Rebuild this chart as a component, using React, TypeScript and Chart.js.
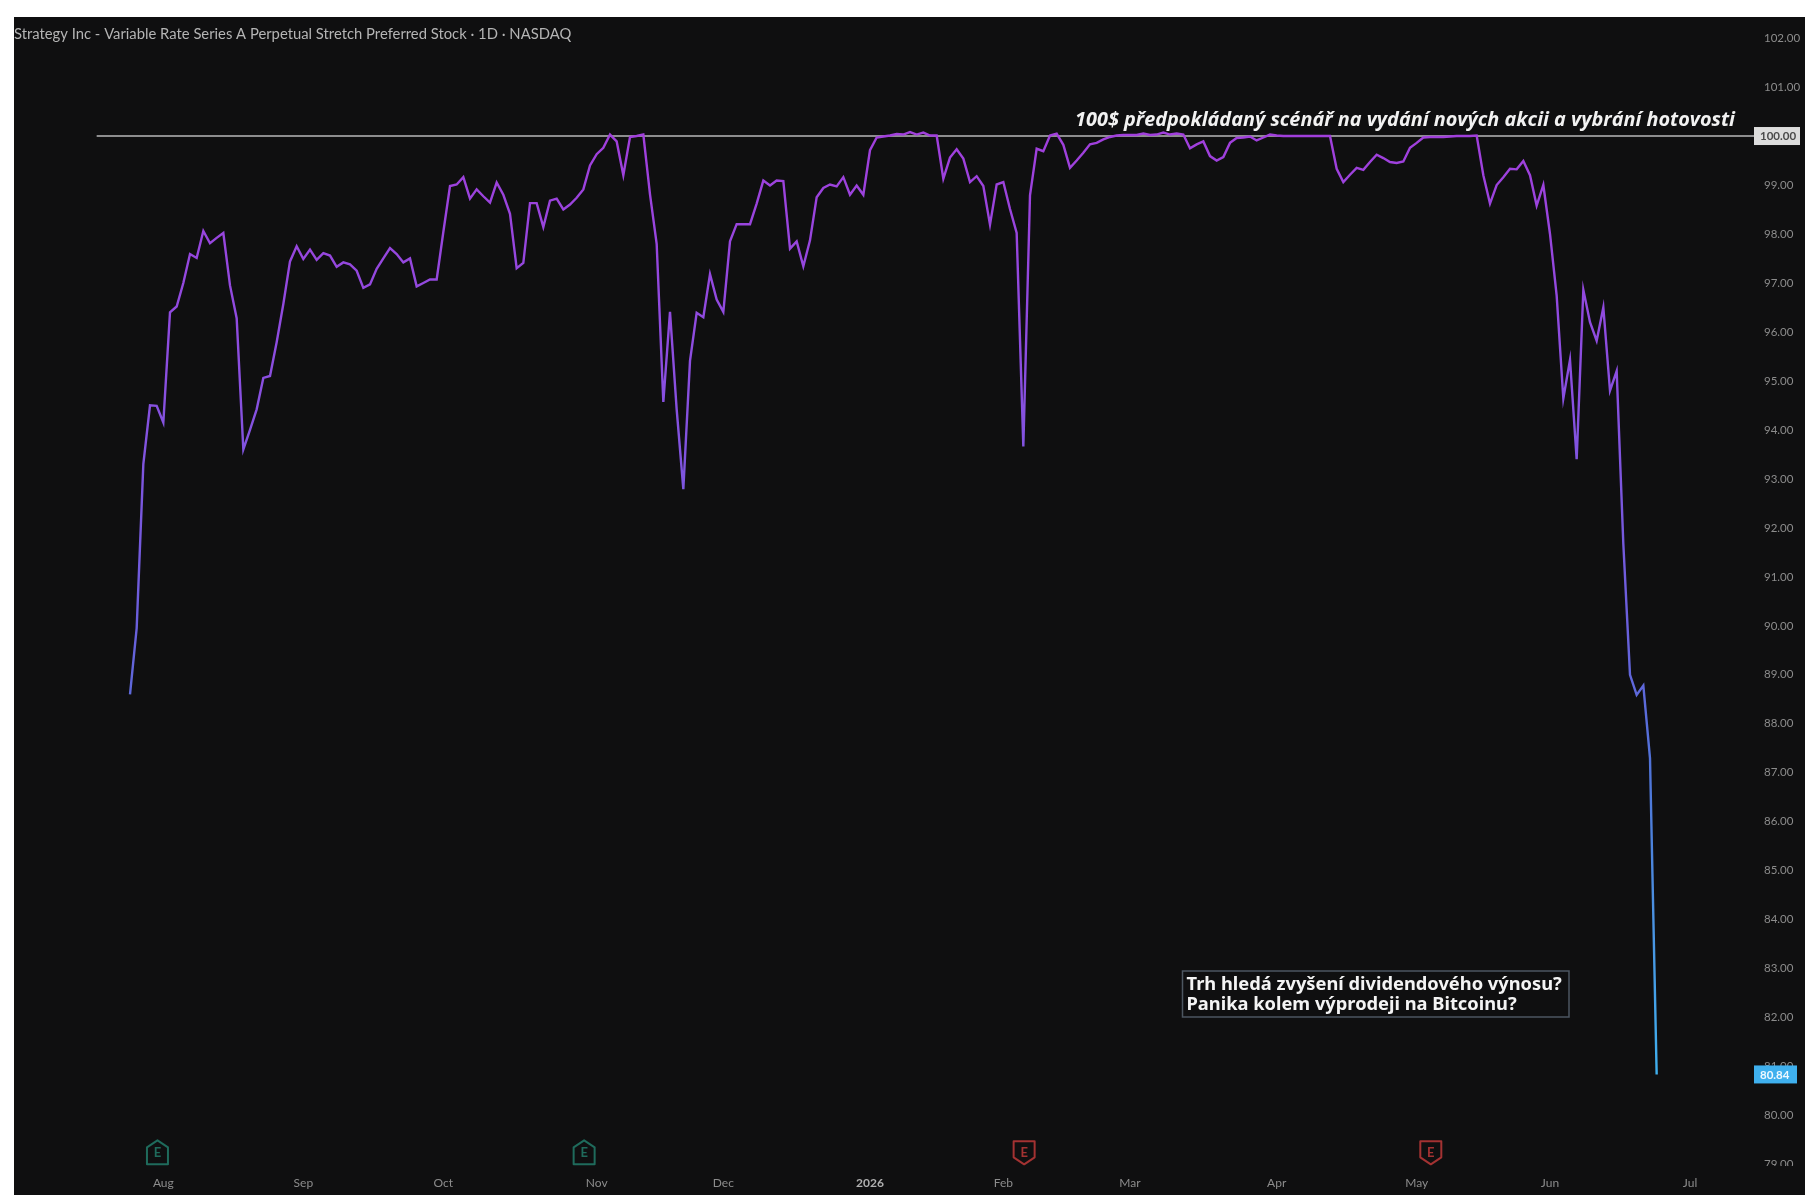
import React, { useEffect, useRef } from "react";
import { Chart, registerables } from "chart.js";

Chart.register(...registerables);

const priceValues: number[] = [
  88.6, 89.95, 93.3, 94.5, 94.49, 94.15, 96.4, 96.52, 97.0, 97.59,
  97.51, 98.06, 97.81, 97.92, 98.02, 96.95, 96.28, 93.6, 94.0, 94.42,
  95.06, 95.1, 95.79, 96.57, 97.44, 97.75, 97.49, 97.68, 97.47, 97.61,
  97.56, 97.33, 97.42, 97.38, 97.25, 96.9, 96.97, 97.29, 97.5, 97.71,
  97.59, 97.42, 97.5, 96.93, 97.0, 97.07, 97.07, 98.04, 98.98, 99.01,
  99.16, 98.72, 98.91, 98.77, 98.64, 99.05, 98.8, 98.41, 97.3, 97.41,
  98.63, 98.63, 98.14, 98.68, 98.72, 98.5, 98.6, 98.74, 98.91, 99.4,
  99.63, 99.76, 100.03, 99.89, 99.2, 99.98, 100.0, 100.03, 98.81, 97.8,
  94.57, 96.41, 94.42, 92.79, 95.41, 96.39, 96.3, 97.18, 96.66, 96.41,
  97.85, 98.2, 98.2, 98.2, 98.62, 99.09, 98.99, 99.09, 99.08, 97.7,
  97.85, 97.34, 97.87, 98.75, 98.94, 99.01, 98.97, 99.16, 98.8, 98.99,
  98.8, 99.71, 99.97, 99.99, 100.01, 100.04, 100.03, 100.08, 100.03, 100.07,
  100.01, 100.01, 99.13, 99.56, 99.73, 99.54, 99.06, 99.18, 98.98, 98.19,
  99.01, 99.06, 98.51, 98.02, 93.66, 98.79, 99.74, 99.69, 100.01, 100.05,
  99.82, 99.35, 99.5, 99.66, 99.83, 99.86, 99.93, 99.98, 100.01, 100.02,
  100.02, 100.02, 100.05, 100.02, 100.03, 100.07, 100.03, 100.05, 100.03, 99.75,
  99.83, 99.89, 99.59, 99.5, 99.57, 99.86, 99.96, 99.97, 99.99, 99.91,
  99.97, 100.03, 100.01, 100.0, 100.0, 100.0, 100.0, 100.0, 100.0, 100.0,
  100.0, 99.33, 99.06, 99.21, 99.35, 99.31, 99.47, 99.62, 99.55, 99.47,
  99.45, 99.48, 99.76, 99.86, 99.97, 99.98, 99.98, 99.98, 99.99, 100.0,
  100.0, 100.0, 100.01, 99.2, 98.62, 99.0, 99.16, 99.33, 99.32, 99.49,
  99.2, 98.58, 99.0, 98.0, 96.74, 94.64, 95.43, 93.4, 96.86, 96.2,
  95.82, 96.5, 94.8, 95.2, 91.67, 89.0, 88.59, 88.78, 87.3, 80.84,
];

const monthLabels: string[] = ["Aug", "Sep", "Oct", "Nov", "Dec", "2026", "Feb", "Mar", "Apr", "May", "Jun", "Jul"];
const monthTickIndex: number[] = [5, 26, 47, 70, 89, 111, 131, 150, 172, 193, 213, 234];
const priceTicks: number[] = [79, 80, 81, 82, 83, 84, 85, 86, 87, 88, 89, 90, 91, 92, 93, 94, 95, 96, 97, 98, 99, 100, 101, 102];
const earningsIndex: number[] = [4, 68, 134, 195];
const earningsBeat: boolean[] = [true, true, false, false];
const earningsLevel = 79.25;
const referencePrice = 100;
const referenceStartIndex = -5;
const lastPrice = priceValues[priceValues.length - 1];
const titleText = "Strategy Inc - Variable Rate Series A Perpetual Stretch Preferred Stock · 1D · NASDAQ";
const scenarioText = "100$ předpokládaný scénář na vydání nových akcii a vybrání hotovosti";
const noteLines: string[] = ["Trh hledá zvyšení dividendového výnosu?", "Panika kolem výprodeji na Bitcoinu?"];
const gradientStops: [number, string][] = [
  [100, "#a13fdc"], [95, "#8a4fe0"], [90, "#6a5fdc"], [87, "#4f74d8"], [84, "#4a92e2"], [80.84, "#3fb0ee"],
];

const BG = "#0f0f10";
const AXIS_TEXT = "#8c8c8c";
const UI_FONT = "Lato";

const overlayPlugin = {
  id: "overlay",
  afterDraw(chart: any) {
    const { ctx, width, height, scales } = chart;
    const x = scales.x;
    const y = scales.y;
    const area = chart.chartArea;
    ctx.save();

    // clip the lowest price tick at the pane edge
    ctx.fillStyle = BG;
    ctx.fillRect(area.right, area.bottom - 2, width - area.right, height - area.bottom + 2);

    // title
    ctx.textBaseline = "middle";
    ctx.textAlign = "left";
    ctx.fillStyle = "#b4b4b4";
    ctx.font = `14.8px ${UI_FONT}`;
    ctx.fillText(titleText, 0, 17);

    // scenario text above the reference line
    ctx.fillStyle = "#f2f2f2";
    ctx.font = 'italic bold 19.85px "Open Sans"';
    ctx.textAlign = "right";
    ctx.fillText(scenarioText, 1721, y.getPixelForValue(referencePrice) - 16);

    // note box
    const boxX = 1168.5, boxY = 954, boxW = 386.5, boxH = 46;
    ctx.strokeStyle = "#4c5660";
    ctx.lineWidth = 1.5;
    ctx.strokeRect(boxX, boxY, boxW, boxH);
    ctx.textAlign = "left";
    ctx.fillStyle = "#f4f4f4";
    ctx.font = 'bold 18.3px "Noto Sans"';
    noteLines.forEach((line, i) => ctx.fillText(line, boxX + 4, boxY + 14 + i * 19.5));

    // earnings markers
    earningsIndex.forEach((idx, i) => {
      const cx = x.getPixelForValue(idx) + 0.8;
      const cy = y.getPixelForValue(earningsLevel);
      const color = earningsBeat[i] ? "#1f6b5c" : "#a33232";
      ctx.strokeStyle = color;
      ctx.lineWidth = 2;
      ctx.lineJoin = "round";
      ctx.beginPath();
      if (earningsBeat[i]) {
        ctx.moveTo(cx, cy - 12);
        ctx.lineTo(cx + 10.5, cy - 5);
        ctx.lineTo(cx + 10.5, cy + 12);
        ctx.lineTo(cx - 10.5, cy + 12);
        ctx.lineTo(cx - 10.5, cy - 5);
      } else {
        ctx.moveTo(cx, cy + 12);
        ctx.lineTo(cx + 10.5, cy + 5);
        ctx.lineTo(cx + 10.5, cy - 11);
        ctx.lineTo(cx - 10.5, cy - 11);
        ctx.lineTo(cx - 10.5, cy + 5);
      }
      ctx.closePath();
      ctx.stroke();
      ctx.fillStyle = color;
      ctx.font = `bold 13px ${UI_FONT}`;
      ctx.textAlign = "center";
      ctx.fillText("E", cx, cy + 0.5);
    });

    // price labels on the axis
    const tag = (value: number, bg: string, fg: string, w: number, h: number) => {
      const py = y.getPixelForValue(value);
      ctx.fillStyle = bg;
      ctx.fillRect(area.right, py - h / 2, w, h);
      ctx.fillStyle = fg;
      ctx.font = `bold 11.5px ${UI_FONT}`;
      ctx.textAlign = "left";
      ctx.fillText(value.toFixed(2), area.right + 6, py + 0.5);
    };
    tag(referencePrice, "#dcdcdc", "#4a4a4a", 46, 18);
    tag(lastPrice, "#3fb0ee", "#eef8ff", 43, 18);
    ctx.restore();
  },
};

export default function App() {
  const ref = useRef<HTMLCanvasElement | null>(null);

  useEffect(() => {
    if (!ref.current) return;
    const chart = new Chart(ref.current, {
      type: "line",
      data: {
        datasets: [
          {
            label: "100$",
            data: [
              { x: referenceStartIndex, y: referencePrice },
              { x: 243.6, y: referencePrice },
            ],
            borderColor: "#b9b9b9",
            borderWidth: 1.5,
            pointRadius: 0,
            tension: 0,
            order: 2,
          },
          {
            label: "Price",
            data: priceValues.map((v, i) => ({ x: i, y: v })),
            borderColor: (c: any) => {
              const yScale = c.chart.scales.y;
              if (!yScale || !c.chart.chartArea) return gradientStops[0][1];
              const top = yScale.getPixelForValue(gradientStops[0][0]);
              const bottom = yScale.getPixelForValue(gradientStops[gradientStops.length - 1][0]);
              if (!Number.isFinite(top) || !Number.isFinite(bottom)) return gradientStops[0][1];
              const g = c.chart.ctx.createLinearGradient(0, top, 0, bottom);
              gradientStops.forEach(([v, col]) => {
                g.addColorStop((yScale.getPixelForValue(v) - top) / (bottom - top), col);
              });
              return g;
            },
            borderWidth: 2.4,
            pointRadius: 0,
            tension: 0,
            order: 1,
          },
        ],
      },
      options: {
        animation: false,
        responsive: false,
        devicePixelRatio: 1,
        maintainAspectRatio: false,
        layout: { padding: 0 },
        plugins: { legend: { display: false }, tooltip: { enabled: false }, title: { display: false } },
        scales: {
          x: {
            type: "linear",
            min: -17.4,
            max: 243.6,
            grid: { display: false },
            border: { display: false },
            afterBuildTicks: (axis: any) => {
              axis.ticks = monthTickIndex.map((v) => ({ value: v }));
            },
            afterFit: (axis: any) => {
              axis.height = 27;
              axis.paddingLeft = 0;
              axis.paddingRight = 0;
            },
            ticks: {
              autoSkip: false,
              maxRotation: 0,
              color: (c: any) => (monthLabels[c.index] === "2026" ? "#b0b0b0" : AXIS_TEXT),
              font: (c: any) => ({ family: UI_FONT, size: 12, weight: monthLabels[c.index] === "2026" ? "bold" : "normal" }),
              padding: 0,
              callback: (_v: any, i: number) => monthLabels[i],
            },
          },
          y: {
            type: "linear",
            position: "right",
            min: 78.93,
            max: 102.43,
            grid: { display: false },
            border: { display: false },
            afterBuildTicks: (axis: any) => {
              axis.ticks = priceTicks.map((v) => ({ value: v }));
            },
            afterFit: (axis: any) => {
              axis.width = 51;
              axis.paddingTop = 0;
              axis.paddingBottom = 0;
            },
            ticks: {
              color: AXIS_TEXT,
              font: { family: UI_FONT, size: 11.5 },
              padding: 2,
              callback: (v: any) => Number(v).toFixed(2),
            },
          },
        },
      },
      plugins: [overlayPlugin],
    } as any);
    return () => chart.destroy();
  }, []);

  return (
    <div style={{ position: "absolute", left: 14, top: 17, width: 1791, height: 1178, background: BG }}>
      <canvas ref={ref} width={1791} height={1178} style={{ display: "block", width: 1791, height: 1178, filter: "blur(0.5px)" }} />
    </div>
  );
}
